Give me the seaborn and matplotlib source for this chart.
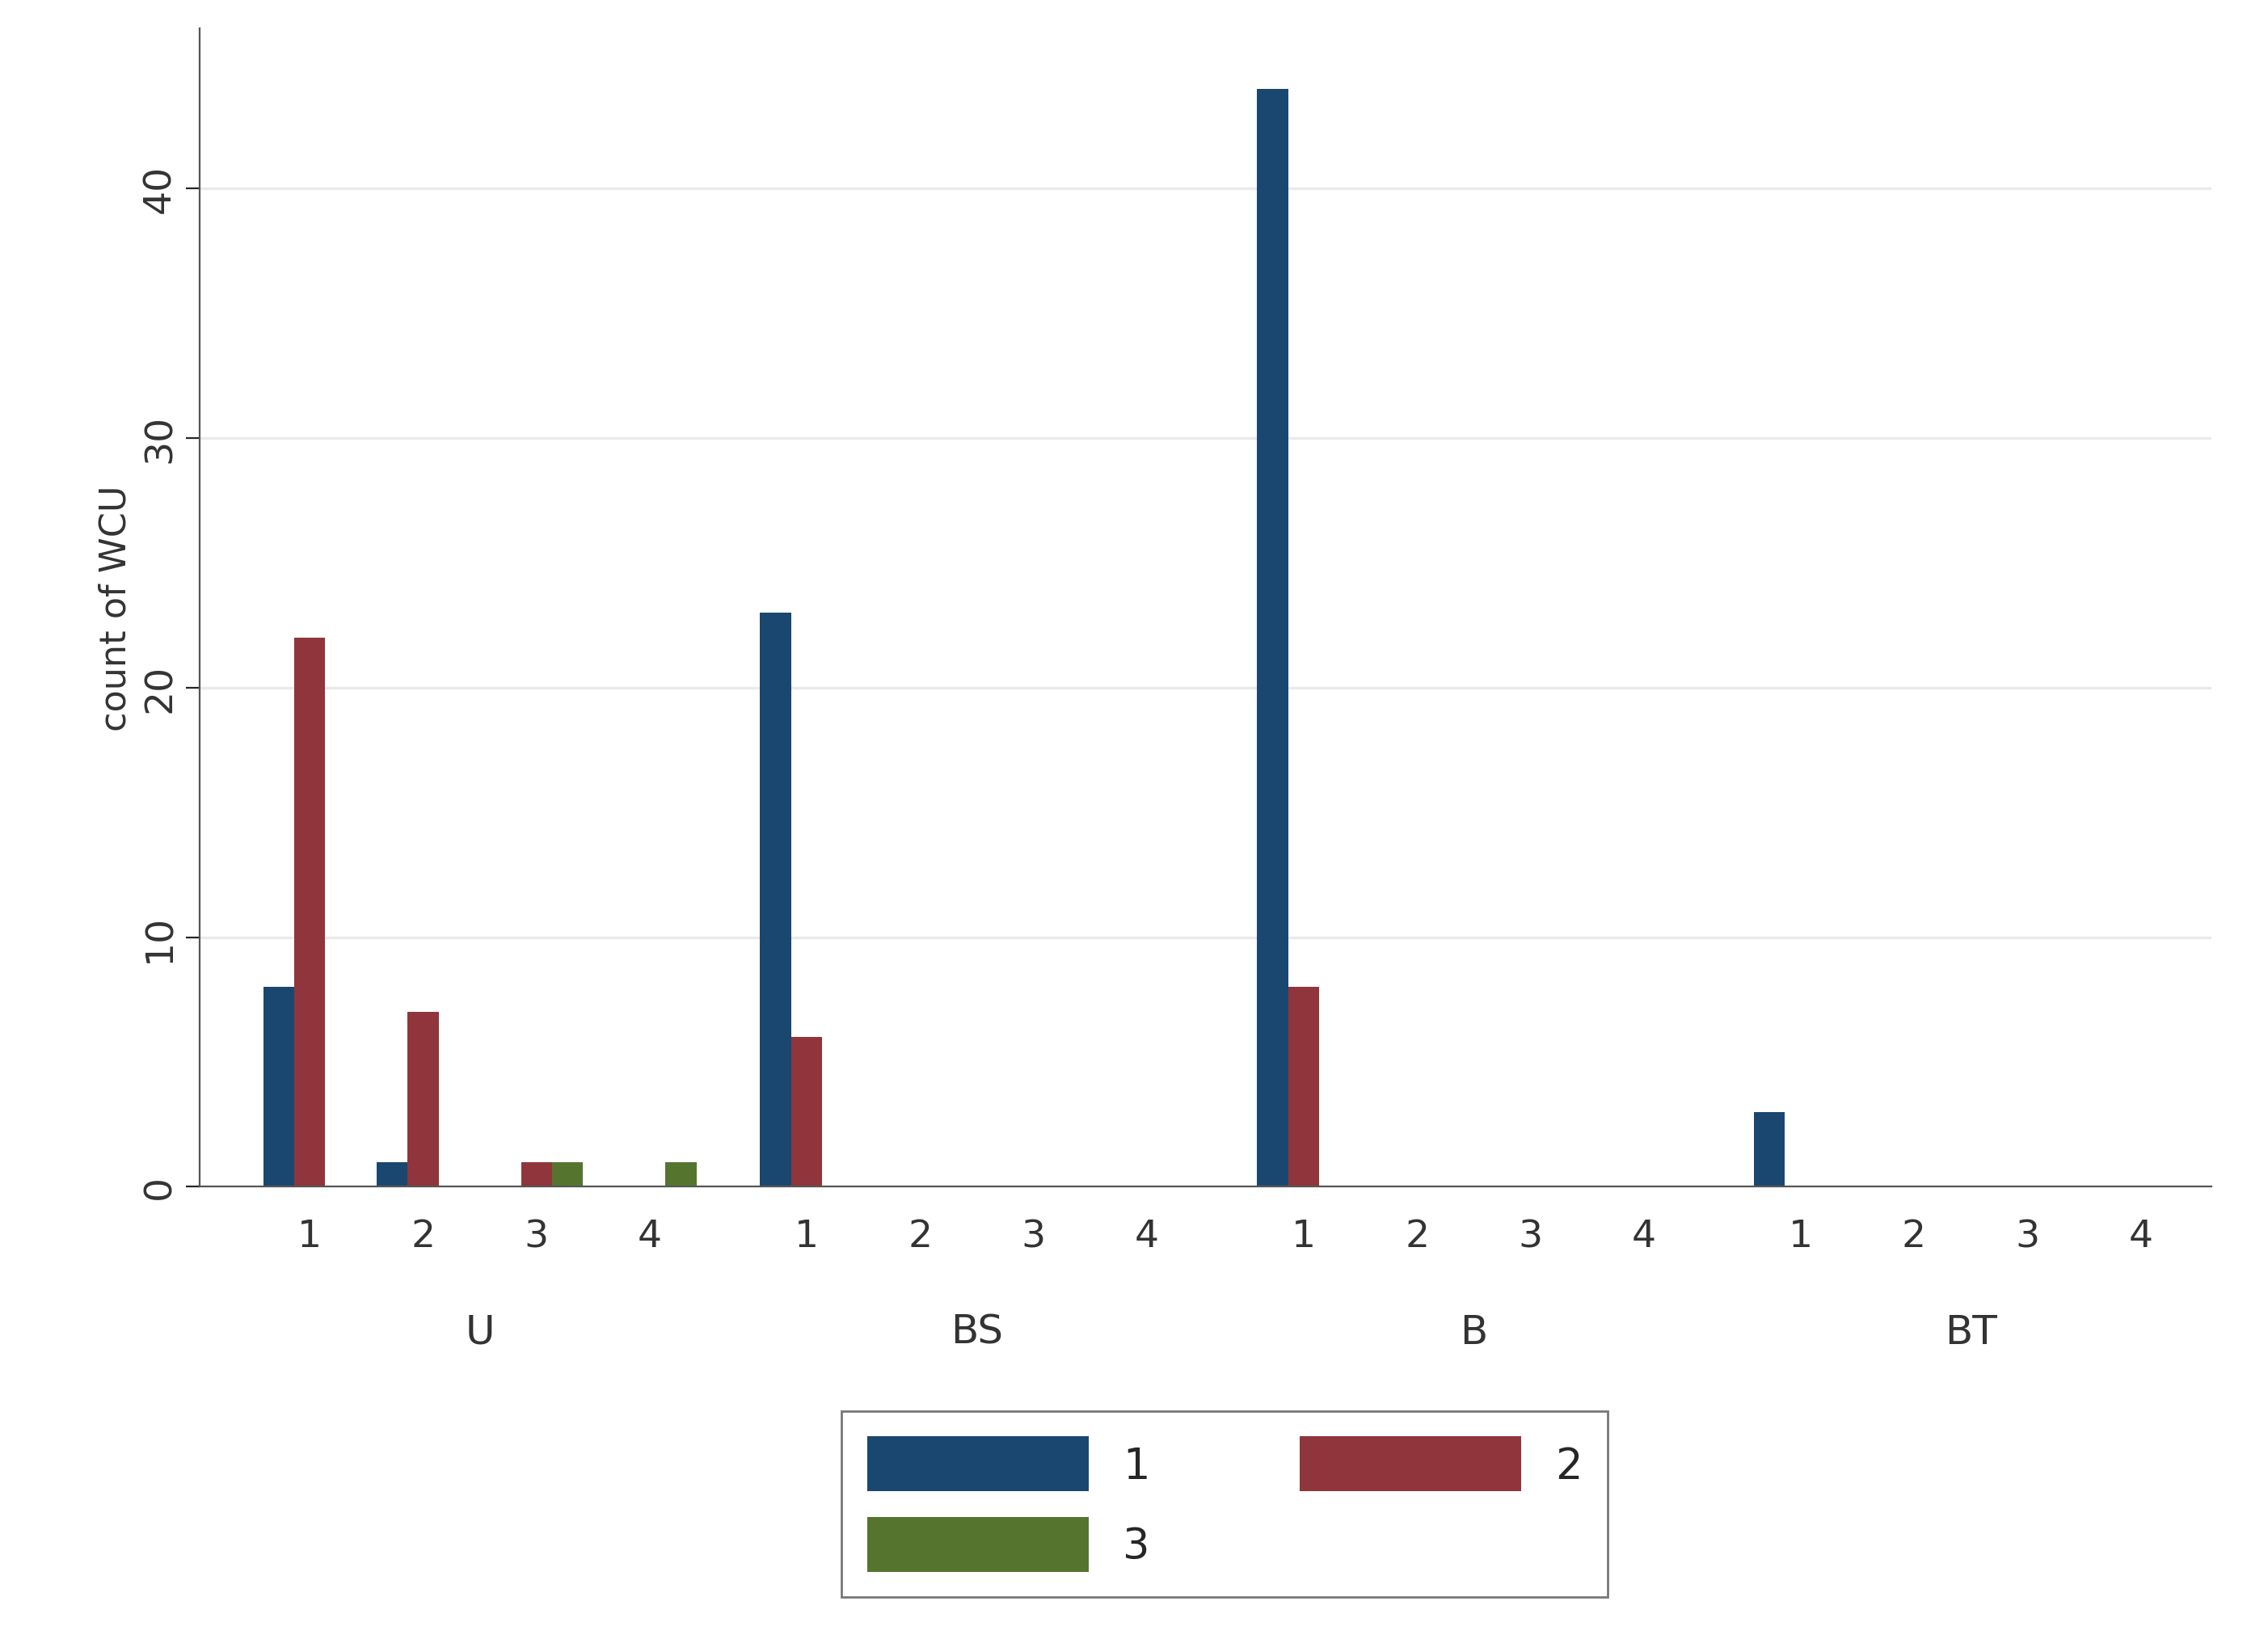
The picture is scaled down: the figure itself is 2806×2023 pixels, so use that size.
import numpy as np
import pandas as pd
import seaborn as sns
import matplotlib.pyplot as plt
from matplotlib.patches import Patch
from matplotlib.transforms import blended_transform_factory

# data
outer_groups = ['U', 'BS', 'B', 'BT']
inner_groups = ['1', '2', '3', '4']
series = ['1', '2', '3']
# counts[outer][inner] = [series1, series2, series3]
counts = {
    'U':  [[8, 22, 0], [1, 7, 0], [0, 1, 1], [0, 0, 1]],
    'BS': [[23, 6, 0], [0, 0, 0], [0, 0, 0], [0, 0, 0]],
    'B':  [[44, 8, 0], [0, 0, 0], [0, 0, 0], [0, 0, 0]],
    'BT': [[3, 0, 0], [0, 0, 0], [0, 0, 0], [0, 0, 0]],
}
colors = ['#1a476f', '#90353b', '#55752f']

group_gap = 1.38  # distance between last inner bar and next outer group's first

rows = []
tick_pos, tick_lab, group_centres = [], [], []
for gi, g in enumerate(outer_groups):
    base = gi * (3 + group_gap)
    for ii, inner in enumerate(inner_groups):
        pos = base + ii
        tick_pos.append(pos)
        tick_lab.append(inner)
        for si, s in enumerate(series):
            rows.append({'pos': pos, 'series': s, 'count': counts[g][ii][si]})
    group_centres.append(base + 1.5)
df = pd.DataFrame(rows)

sns.set_style('white')
plt.rcParams['font.family'] = ['DejaVu Sans']
fig, ax = plt.subplots(figsize=(14.03, 10.12), dpi=200)
fig.subplots_adjust(left=0.088, right=0.975, top=0.982, bottom=0.274)

sns.barplot(data=df, x='pos', y='count', hue='series', hue_order=series,
            palette=colors, native_scale=True, width=0.82, dodge=True,
            saturation=1, ax=ax, legend=False, linewidth=0)

ax.set_xlim(tick_pos[0] - 0.97, tick_pos[-1] + 0.62)
ax.set_ylim(0, 46.4)
ax.set_yticks([0, 10, 20, 30, 40])
ax.yaxis.grid(True, color='#eaeaea', linewidth=1.2)
ax.set_axisbelow(True)
ax.set_xticks(tick_pos)
ax.set_xticklabels(tick_lab, fontsize=17, color='#333333')
ax.tick_params(axis='x', length=0, pad=14)
ax.tick_params(axis='y', length=6, left=True, labelsize=17, labelcolor='#333333')
for lab in ax.get_yticklabels():
    lab.set_rotation(90)
    lab.set_va('center')
ax.set_xlabel('')
ax.set_ylabel('count of WCU', fontsize=16, color='#333333')
for side in ['top', 'right']:
    ax.spines[side].set_visible(False)
ax.spines['left'].set_color('#555555')
ax.spines['bottom'].set_color('#555555')

trans = blended_transform_factory(ax.transData, ax.transAxes)
for c, g in zip(group_centres, outer_groups):
    ax.text(c, -0.125, g, transform=trans, ha='center', va='center',
            fontsize=18, color='#333333')

# order so the legend fills row-wise: 1 2 / 3
handles = [Patch(facecolor=colors[i], edgecolor='none', label=series[i]) for i in [0, 2, 1]]
fig.legend(handles=handles, ncol=2, loc='center', bbox_to_anchor=(0.54, 0.08),
           fontsize=19, frameon=True, fancybox=False, edgecolor='#555555',
           handlelength=5.2, handleheight=1.6, columnspacing=3.5, borderpad=0.6,
           labelspacing=0.6)

plt.savefig('out.png', dpi=200)
